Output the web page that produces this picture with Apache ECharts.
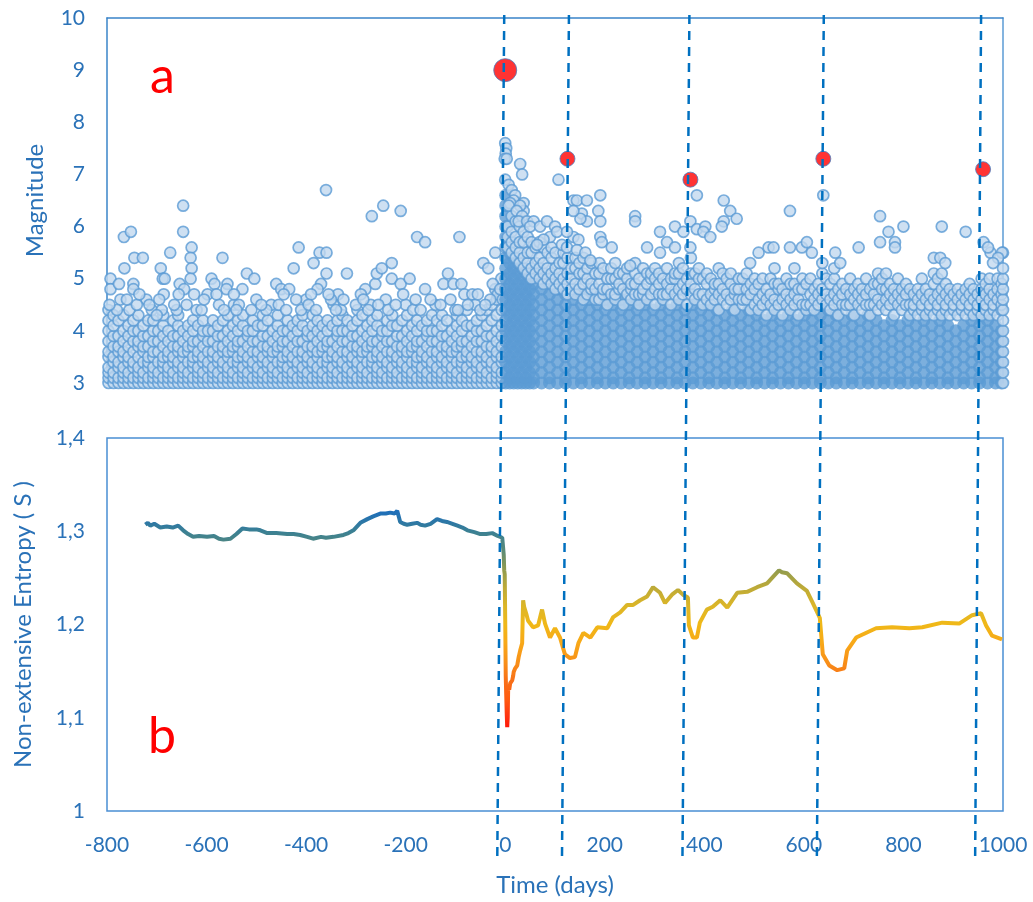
<!DOCTYPE html>
<html>
<head>
<meta charset="utf-8">
<script src="https://cdn.jsdelivr.net/npm/echarts@6/dist/echarts.min.js"></script>
<style>
html, body { margin: 0; padding: 0; background: #fff; }
#chart { width: 1033px; height: 902px; }
</style>
</head>
<body>
<div id="chart"></div>
<script>
// days relative to the main shock
var timeMin = -800, timeMax = 1000;

// large shocks drawn in red: [day, magnitude]
var mainShocks = [[0, 9.0], [125, 7.3], [372, 6.9], [639, 7.3], [960, 7.1]];

// dashed marker lines (hand drawn, slightly slanted): day at the top and at the bottom
var markTop = [-2, 128, 370, 640, 956];
var markBottom = [-16, 114, 356, 626, 944];

// foreshock cloud, columns of [day, [magnitude x10 ...]]
var foreCloud = [
  [-797,[30,31,32,33,35,36,38,40,42,44]],[-787,[30,31,32,34,35,37,39,41,43]],[-777,[30,31,33,34,36,37,39,42]],
  [-767,[30,31,32,33,35,36,38,40,43]],[-757,[30,31,32,34,35,37,39,41]],[-747,[30,31,33,34,36,38,40,42]],
  [-737,[30,31,32,33,35,37,38,40,43]],[-727,[30,31,32,34,36,37,39,41]],[-717,[30,31,33,34,35,37,39,42]],
  [-707,[30,31,32,33,35,36,38,40,42]],[-697,[30,31,32,34,36,38,40]],[-687,[30,31,33,34,35,37,39,41,43]],
  [-677,[30,31,32,33,35,36,38,40]],[-667,[30,31,32,34,35,37,39,42]],[-657,[30,31,33,34,36,37,39,41,43]],
  [-647,[30,31,32,33,35,36,38,40]],[-637,[30,31,32,34,36,37,39,41]],[-627,[30,31,33,34,35,37,38,40,42]],
  [-617,[30,31,32,33,35,36,38,41]],[-607,[30,31,32,34,35,37,39,40,42]],[-597,[30,31,33,34,36,38,40]],
  [-587,[30,31,32,33,35,36,38,40,42]],[-577,[30,31,32,34,35,37,39,41]],[-567,[30,31,33,34,36,37,39,42]],
  [-557,[30,31,32,33,35,36,38,40,43]],[-547,[30,31,32,34,36,37,39,41]],[-537,[30,31,33,34,35,37,38,40,42]],
  [-527,[30,31,32,33,35,36,38,41,43]],[-517,[30,31,32,34,35,37,39,40]],[-507,[30,31,33,34,36,38,40,42]],
  [-497,[30,31,32,33,35,36,38,41]],[-487,[30,31,32,34,35,37,39,41,43]],[-477,[30,31,33,34,36,37,39,42]],
  [-467,[30,31,32,33,35,36,38,40]],[-457,[30,31,32,34,36,37,39,41,43]],[-447,[30,31,33,34,35,37,38,40]],
  [-437,[30,31,32,33,35,36,38,40,42]],[-427,[30,31,32,34,35,37,39,41]],[-417,[30,31,33,34,36,38,40,42]],
  [-407,[30,31,32,33,35,36,38,41,43]],[-397,[30,31,32,34,35,37,39,40]],[-387,[30,31,33,34,36,37,39,41,43]],
  [-377,[30,31,32,33,35,36,38,40,42]],[-367,[30,31,32,34,36,37,39,41]],[-357,[30,31,33,34,35,37,38,40,42]],
  [-347,[30,31,32,33,35,36,38,41]],[-337,[30,31,32,34,35,37,39,40,42]],[-327,[30,31,33,34,36,38,40,43]],
  [-317,[30,31,32,33,35,36,38,40,42]],[-307,[30,31,32,34,35,37,39,41]],[-297,[30,31,33,34,36,37,39,42,44]],
  [-287,[30,31,32,33,35,36,38,40,43]],[-277,[30,31,32,34,36,37,39,41]],[-267,[30,31,33,34,35,37,38,40,42]],
  [-257,[30,31,32,33,35,36,38,41,43]],[-247,[30,31,32,34,35,37,39,40]],[-237,[30,31,33,34,36,38,40,42]],
  [-227,[30,31,32,33,35,36,38,41,43]],[-217,[30,31,32,34,35,37,39,41]],[-207,[30,31,33,34,36,37,39,42]],
  [-197,[30,31,32,33,35,36,38,40,43]],[-187,[30,31,32,34,36,37,39,41]],[-177,[30,31,33,34,35,37,38,40,42]],
  [-167,[30,31,32,33,35,36,38,41]],[-157,[30,31,32,34,35,37,39,40,42]],[-147,[30,31,33,34,36,38,40,43]],
  [-137,[30,31,32,33,35,36,38,40,42]],[-127,[30,31,32,34,35,37,39,41,43]],[-117,[30,31,33,34,36,37,39,42]],
  [-107,[30,31,32,33,35,36,38,40]],[-97,[30,31,32,34,36,37,39,41,43]],[-87,[30,31,33,34,35,37,38,40,42]],
  [-77,[30,31,32,33,35,36,38,41,44]],[-67,[30,31,32,34,35,37,39,41]],[-57,[30,31,33,34,36,38,40,42]],
  [-47,[30,31,32,33,35,36,38,40,43]],[-37,[30,31,32,34,35,37,39,41,44]],[-27,[30,31,33,34,36,37,39,42,45]],
  [-17,[30,31,32,33,35,36,38,40,43,46]],[-7,[30,31,32,34,35,37,39,41,44,47]]
];

// isolated foreshocks: [day, magnitude]
var foreOutliers = [
  [-793,5.0],[-793,4.8],[-776,4.9],[-766,5.8],[-752,5.9],[-765,5.2],[-745,5.4],[-728,5.4],[-747,4.9],[-747,4.8],
  [-773,4.6],[-721,4.6],[-755,4.4],[-740,4.5],[-780,4.4],[-710,4.4],[-692,5.2],[-688,5.0],[-684,5.0],[-686,4.7],
  [-673,5.5],[-690,4.4],[-700,4.3],[-647,6.4],[-647,5.9],[-630,5.6],[-632,5.4],[-630,5.2],[-632,5.0],[-654,4.9],
  [-645,4.8],[-656,4.7],[-640,4.5],[-620,4.4],[-660,4.4],[-568,5.4],[-590,5.0],[-584,4.9],[-598,4.7],[-558,4.9],
  [-560,4.8],[-575,4.5],[-610,4.4],[-545,4.5],[-519,5.1],[-504,5.0],[-528,4.8],[-545,4.7],[-510,4.4],[-535,4.5],
  [-460,4.9],[-450,4.8],[-434,4.8],[-445,4.7],[-470,4.5],[-480,4.4],[-425,5.2],[-415,5.6],[-400,4.6],[-410,4.4],
  [-385,5.3],[-373,5.5],[-359,5.5],[-359,5.1],[-370,4.9],[-377,4.8],[-390,4.7],[-336,4.7],[-318,5.1],[-345,4.5],
  [-330,4.4],[-360,6.7],[-350,4.6],[-281,4.8],[-261,4.9],[-258,5.1],[-248,5.2],[-268,6.2],[-245,6.4],[-210,6.3],
  [-228,5.3],[-228,5.0],[-210,4.9],[-192,5.0],[-177,5.8],[-161,5.7],[-161,4.8],[-270,4.5],[-240,4.6],[-200,4.5],
  [-185,4.4],[-124,4.9],[-104,4.9],[-88,4.9],[-115,5.1],[-82,4.7],[-66,4.7],[-92,5.8],[-44,5.3],[-34,5.2],
  [-20,5.5],[-20,4.8],[-15,4.7],[-140,4.5],[-100,4.4],[-60,4.5],[-30,4.6],[-50,4.4],[-8,5.0],[-5,4.6],
  [-795,4.5],[-760,4.6],[-735,4.7],[-715,4.5],[-695,4.6],[-665,4.5],[-625,4.7],[-605,4.6],[-580,4.7],[-565,4.4],
  [-540,4.4],[-500,4.6],[-490,4.5],[-455,4.5],[-440,4.4],[-420,4.6],[-395,4.5],[-380,4.4],[-355,4.7],[-340,4.4],
  [-325,4.6],[-300,4.5],[-290,4.7],[-285,4.6],[-275,4.4],[-255,4.5],[-235,4.4],[-220,4.5],[-205,4.7],[-180,4.6],
  [-170,4.4],[-150,4.6],[-130,4.5],[-110,4.6],[-95,4.4],[-75,4.5],[-55,4.7],[-40,4.5],[-25,4.9],[-10,4.8]
];

// dense aftershock core, columns of [day, [magnitude x10 ...]]
var afterCore = [
  [1,[30,32,34,36,38,40,42,44,46,48,50,52,54,56,58,60,62,64,66]],[9,[30,31,33,35,37,39,41,43,45,47,49,51,53,55]],
  [17,[30,32,34,36,38,40,42,44,46,48,50,52,54]],[25,[30,31,33,35,37,39,41,43,45,47,49,51,53]],
  [33,[30,32,34,36,38,40,42,44,46,48,50,52]],[41,[30,31,33,35,37,39,41,43,45,47,49,51]],
  [49,[30,32,34,36,38,40,42,44,46,48,50]],[57,[30,31,33,35,37,39,41,43,45,47,49,51]],
  [73,[30,32,34,36,38,40,42,44,46,48,50]],[89,[30,31,33,35,37,39,41,43,45,47,49]],
  [105,[30,32,34,36,38,40,42,44,46,48]],[121,[30,31,33,35,37,39,41,43,45,47]],
  [137,[30,32,34,36,38,40,42,44,46,48]],[153,[30,31,33,35,37,39,41,43,45,47]],
  [169,[30,32,34,36,38,40,42,44,46]],[185,[30,31,33,35,37,39,41,43,45,47]],
  [201,[30,32,34,36,38,40,42,44,46]],[217,[30,31,33,35,37,39,41,43,45]],
  [233,[30,32,34,36,38,40,42,44,46]],[249,[30,31,33,35,37,39,41,43,45]],
  [265,[30,32,34,36,38,40,42,44,46]],[281,[30,31,33,35,37,39,41,43,45]],
  [297,[30,32,34,36,38,40,42,44]],[313,[30,31,33,35,37,39,41,43,45]],
  [329,[30,32,34,36,38,40,42,44]],[345,[30,31,33,35,37,39,41,43,45]],
  [361,[30,32,34,36,38,40,42,44]],[377,[30,31,33,35,37,39,41,43,45]],
  [393,[30,32,34,36,38,40,42,44]],[409,[30,31,33,35,37,39,41,43,45]],
  [425,[30,32,34,36,38,40,42,44]],[441,[30,31,33,35,37,39,41,43]],
  [457,[30,32,34,36,38,40,42,44]],[473,[30,31,33,35,37,39,41,43]],
  [489,[30,32,34,36,38,40,42,44]],[505,[30,31,33,35,37,39,41,43]],
  [521,[30,32,34,36,38,40,42]],[537,[30,31,33,35,37,39,41,43]],
  [553,[30,32,34,36,38,40,42]],[569,[30,31,33,35,37,39,41,43]],
  [585,[30,32,34,36,38,40,42]],[601,[30,31,33,35,37,39,41,43]],
  [617,[30,32,34,36,38,40,42,44]],[633,[30,31,33,35,37,39,41,43]],
  [649,[30,32,34,36,38,40,42,44]],[665,[30,31,33,35,37,39,41,43]],
  [681,[30,32,34,36,38,40,42]],[697,[30,31,33,35,37,39,41,43]],
  [713,[30,32,34,36,38,40,42]],[729,[30,31,33,35,37,39,41,43]],
  [745,[30,32,34,36,38,40,42]],[761,[30,31,33,35,37,39,41]],
  [777,[30,32,34,36,38,40,42]],[793,[30,31,33,35,37,39,41]],
  [809,[30,32,34,36,38,40,42]],[825,[30,31,33,35,37,39,41]],
  [841,[30,32,34,36,38,40,42]],[857,[30,31,33,35,37,39,41]],
  [873,[30,32,34,36,38,40,42]],[889,[30,31,33,35,37,39,41]],
  [905,[30,32,34,36,38,40]],[921,[30,31,33,35,37,39,41]],
  [937,[30,32,34,36,38,40,42]],[953,[30,31,33,35,37,39,41,43]],
  [969,[30,32,34,36,38,40,42]],[985,[30,31,33,35,37,39,41]],
  [997,[30,32,34,36,38,40]]
];

// looser aftershocks above the core, columns of [day, [magnitude x10 ...]]
var afterUpper = [
  [5,[56,58,60]],[13,[55,57,59,62]],[21,[54,56,58,61]],[29,[53,55,57,60]],[37,[52,54,57,59]],[45,[51,53,55,58]],
  [53,[50,52,55,57]],[61,[51,53,56]],[69,[50,52,54,57]],[77,[49,51,53,56]],[85,[50,52,55]],[93,[49,51,54,56]],
  [101,[48,50,52,55]],[109,[49,51,53]],[117,[48,50,53,55]],[125,[47,49,51,54]],[133,[48,50,52]],[141,[47,49,52,54]],
  [149,[48,51,53]],[157,[46,49,51,54]],[165,[47,50,52]],[173,[48,49,53]],[181,[46,48,51]],[189,[46,49,51,53]],
  [197,[47,48,52]],[205,[45,48,50]],[213,[47,50,52]],[221,[46,47,50,53]],[229,[48,49,51]],[237,[45,48,51]],
  [245,[47,50,52]],[253,[46,48,49]],[261,[47,49,51,53]],[269,[45,47,50]],[277,[47,48,52]],[285,[46,49,51]],
  [293,[47,50,51]],[301,[45,48,50,52]],[309,[47,49,51]],[317,[46,47,50]],[325,[47,49,52]],[333,[45,48,50]],
  [341,[47,50,51]],[349,[46,48,51,53]],[357,[47,49,52]],[365,[45,48,50]],[373,[47,49,51,54]],[381,[46,48,51]],
  [389,[47,50,52]],[397,[45,47,50]],[405,[46,49,51]],[413,[45,47,50]],[421,[46,48,49]],[429,[44,47,49,52]],
  [437,[46,48,51]],[445,[45,47,50]],[453,[46,49,51]],[461,[44,47,48]],[469,[46,48,50]],[477,[45,46,50]],
  [485,[46,48,51]],[493,[44,47,49]],[501,[45,48,50]],[509,[44,46,49]],[517,[45,47,50]],[525,[43,46,48]],
  [533,[45,47,50]],[541,[44,46,49,52]],[549,[45,48,49]],[557,[43,46,48]],[565,[45,47,50]],[573,[44,46,49]],
  [581,[45,47,49,52]],[589,[43,46,48]],[597,[45,48,50]],[605,[44,45,49]],[613,[45,47,50]],[621,[44,46,48]],
  [629,[45,47,49]],[637,[46,48,51,53]],[645,[45,47,50]],[653,[44,46,49]],[661,[45,47,50,52]],[669,[43,46,48]],
  [677,[45,47,49]],[685,[44,45,48]],[693,[45,47,50]],[701,[43,46,48]],[709,[45,47,49]],[717,[44,46,48]],
  [725,[45,47,50]],[733,[43,45,48]],[741,[45,47,49]],[749,[44,46,49,51]],[757,[45,48,50]],[765,[44,46,48,51]],
  [773,[45,47,49]],[781,[43,46,48]],[789,[45,47,50]],[797,[44,46,48]],[805,[45,47,49]],[813,[43,45,48]],
  [821,[44,45,47]],[829,[43,46,48]],[837,[44,45,47,50]],[845,[43,46,48]],[853,[44,45,47]],[861,[43,46,49,51]],
  [869,[44,45,47,50]],[877,[43,46,48,51]],[885,[44,45,47,49]],[893,[43,46,48]],[901,[44,45,47]],[909,[43,46,48]],
  [917,[44,45,47]],[925,[43,46,48]],[933,[44,45,47,49]],[941,[43,46,48]],[949,[44,45,47]],[957,[43,46,48,50]],
  [965,[44,45,47,49]],[973,[43,46,48,50]],[981,[44,45,47]],[989,[43,46,48,50]],[997,[44,45,47,49]],
  [1000,[30,32,34,36,38,40,42,44,46,48,50,52,55]]
];

// isolated large aftershocks: [day, magnitude]
var afterOutliers = [
  [0,7.6],[2,7.5],[1,7.4],[-1,7.3],[3,7.3],[30,7.2],[34,7.0],[107,6.9],
  [0,6.9],[7,6.8],[13,6.7],[20,6.6],[17,6.5],[10,6.45],[37,6.45],[37,6.3],[30,6.4],[7,6.4],[23,6.3],[34,6.2],
  [27,6.1],[44,6.1],[57,6.1],[50,6.0],[70,6.0],[84,6.1],[100,6.0],[90,5.8],[104,5.9],[77,5.75],[64,5.65],[114,5.65],
  [137,6.5],[144,6.5],[164,6.5],[191,6.6],[187,6.3],[154,6.25],[164,6.1],[151,6.15],[137,6.3],[191,6.1],[191,5.8],
  [194,5.7],[214,5.6],[137,5.8],[147,5.75],[124,5.6],[144,5.55],[124,5.9],[161,5.5],[171,5.35],[261,6.2],[261,6.1],
  [311,5.9],[325,5.7],[341,6.0],[358,5.9],[372,6.1],[385,6.6],[385,5.95],[402,6.0],[398,5.9],[412,5.8],[439,6.5],
  [452,6.3],[465,6.15],[439,6.1],[435,6.0],[311,5.5],[341,5.6],[372,5.6],[285,5.6],[251,5.25],[509,5.5],[529,5.6],
  [492,5.3],[639,6.6],[572,6.3],[753,6.2],[770,5.9],[800,6.0],[783,5.7],[783,5.6],[753,5.7],[877,6.0],[925,5.9],
  [539,5.6],[572,5.6],[596,5.6],[606,5.7],[616,5.5],[710,5.6],[961,5.7],[975,5.5],[998,5.5],[861,5.4],[874,5.4],
  [884,5.3],[663,5.5],[673,5.3],[970,5.6],[990,5.4],[980,5.3]
];

// non-extensive entropy: [day, S]
var entropy = [
  [-723,1.307],[-718,1.309],[-713,1.306],[-705,1.308],[-693,1.304],[-680,1.305],[-668,1.304],[-657,1.306],
  [-647,1.301],[-637,1.297],[-627,1.294],[-615,1.295],[-599,1.294],[-585,1.295],[-575,1.292],[-566,1.291],
  [-552,1.292],[-540,1.297],[-528,1.303],[-515,1.302],[-500,1.302],[-492,1.301],[-478,1.298],[-460,1.298],
  [-438,1.297],[-425,1.297],[-412,1.296],[-398,1.294],[-386,1.292],[-370,1.294],[-360,1.293],[-345,1.294],
  [-325,1.296],[-315,1.298],[-305,1.301],[-298,1.305],[-291,1.309],[-277,1.313],[-265,1.316],[-251,1.319],
  [-240,1.319],[-231,1.320],[-222,1.319],[-217,1.322],[-213,1.320],[-211,1.310],[-204,1.308],[-197,1.307],
  [-187,1.308],[-177,1.309],[-170,1.307],[-161,1.306],[-150,1.308],[-137,1.313],[-127,1.311],[-117,1.310],
  [-106,1.308],[-96,1.306],[-86,1.304],[-76,1.301],[-62,1.299],[-50,1.297],[-38,1.297],[-26,1.298],
  [-15,1.295],[-6,1.293],[-4,1.291],[-3,1.275],[-2,1.258],[-1,1.254],[0,1.205],[1,1.145],[2,1.125],[3,1.105],
  [4,1.090],[5,1.100],[6,1.135],[8,1.130],[10,1.137],[12,1.135],[14,1.140],[16,1.145],[17,1.149],[20,1.153],
  [24,1.156],[27,1.165],[30,1.172],[34,1.180],[35,1.204],[36,1.226],[38,1.219],[42,1.212],[46,1.204],[56,1.197],
  [66,1.199],[74,1.216],[80,1.201],[90,1.186],[100,1.196],[110,1.186],[120,1.168],[130,1.164],[140,1.165],
  [147,1.180],[157,1.191],[171,1.186],[185,1.197],[205,1.196],[217,1.208],[231,1.213],[245,1.221],[257,1.221],
  [271,1.226],[285,1.230],[297,1.240],[311,1.234],[321,1.223],[335,1.232],[347,1.237],[357,1.232],[367,1.229],
  [369,1.199],[377,1.186],[385,1.186],[391,1.202],[405,1.216],[417,1.219],[432,1.226],[446,1.218],[466,1.234],
  [486,1.235],[506,1.240],[526,1.244],[538,1.251],[550,1.258],[556,1.256],[566,1.255],[586,1.244],[606,1.236],
  [618,1.223],[632,1.207],[638,1.168],[651,1.156],[667,1.151],[681,1.153],[687,1.172],[705,1.186],[745,1.196],
  [777,1.197],[812,1.196],[838,1.197],[878,1.202],[912,1.201],[938,1.210],[956,1.212],[966,1.199],[978,1.188],
  [998,1.184]
];

var axisBlue = '#2a72b8';
var font = 'Lato, "Open Sans", sans-serif';

// [day, [m x10]] columns -> [day, m] points
function expand(cols) {
  var out = [];
  cols.forEach(function (c) {
    c[1].forEach(function (m) { out.push([c[0], m / 10]); });
  });
  return out;
}

var lightDot = { color: '#c2d8ef', borderColor: '#5b9bd5', borderWidth: 1.7 };

var chart = echarts.init(document.getElementById('chart'));

chart.setOption({
  animation: false,
  textStyle: { fontFamily: font },
  grid: [
    { left: 107, right: 30, top: 18, height: 365 },
    { left: 107, right: 30, top: 438, height: 373, show: true, borderColor: '#4a8fd4', borderWidth: 1.5 },
    { left: 107, right: 30, top: 15, height: 845 }
  ],
  xAxis: [
    { gridIndex: 0, type: 'value', min: timeMin, max: timeMax, position: 'top',
      axisLine: { show: true, onZero: false, lineStyle: { color: '#3a84c9', width: 1.5 } },
      axisTick: { show: false }, axisLabel: { show: false }, splitLine: { show: false } },
    { gridIndex: 1, type: 'value', min: timeMin, max: timeMax, interval: 200,
      axisLine: { show: false }, axisTick: { show: false }, splitLine: { show: false },
      axisLabel: { color: axisBlue, fontSize: 21, margin: 24, fontFamily: font,
        formatter: function (v) { return String(v); } },
      name: 'Time (days)', nameLocation: 'middle', nameGap: 62,
      nameTextStyle: { color: axisBlue, fontSize: 24, fontFamily: font } },
    { gridIndex: 2, type: 'value', min: timeMin, max: timeMax, show: false }
  ],
  yAxis: [
    { gridIndex: 0, type: 'value', min: 3, max: 10, interval: 1,
      axisLine: { show: true, onZero: false, lineStyle: { color: '#3a84c9', width: 1.5 } },
      axisTick: { show: false }, splitLine: { show: false },
      axisLabel: { color: axisBlue, fontSize: 21, margin: 22, fontFamily: font },
      name: 'Magnitude', nameLocation: 'middle', nameGap: 60, nameRotate: 90,
      nameTextStyle: { color: axisBlue, fontSize: 24, fontFamily: font } },
    { gridIndex: 0, type: 'value', min: 3, max: 10, position: 'right',
      axisLine: { show: true, onZero: false, lineStyle: { color: '#5b9bd5', width: 1.5 } },
      axisTick: { show: false }, axisLabel: { show: false }, splitLine: { show: false } },
    { gridIndex: 1, type: 'value', min: 1, max: 1.4, interval: 0.1,
      axisLine: { show: false }, axisTick: { show: false }, splitLine: { show: false },
      axisLabel: { color: axisBlue, fontSize: 21, margin: 22, fontFamily: font,
        formatter: function (v) { return String(+v.toFixed(1)).replace('.', ','); } },
      name: 'Non-extensive Entropy ( S )', nameLocation: 'middle', nameGap: 72, nameRotate: 90,
      nameTextStyle: { color: axisBlue, fontSize: 24, fontFamily: font } },
    { gridIndex: 2, type: 'value', min: 0, max: 1, show: false }
  ],
  visualMap: {
    type: 'continuous', show: false, seriesIndex: 5, dimension: 1, min: 1.08, max: 1.32,
    inRange: { color: ['#ff0000', '#ff3010', '#ff5a10', '#f87018', '#f89018', '#f8a818', '#f0b818',
                       '#dcb628', '#bcaa38', '#8e9a50', '#5a8a78', '#3a8094', '#1f6fb8'] }
  },
  graphic: [
    { type: 'text', left: 150, top: 52, style: { text: 'a', fill: '#ff0000', font: '50px ' + font } },
    { type: 'text', left: 148, top: 712, style: { text: 'b', fill: '#ff0000', font: '50px ' + font } }
  ],
  series: [
    { name: 'foreshocks', type: 'scatter', xAxisIndex: 0, yAxisIndex: 0, symbolSize: 11, clip: false,
      progressive: 0, itemStyle: lightDot, data: expand(foreCloud).concat(foreOutliers) },
    { name: 'aftershock core', type: 'scatter', xAxisIndex: 0, yAxisIndex: 0, symbolSize: 13, clip: false,
      progressive: 0, itemStyle: { color: '#5b9bd5' }, data: expand(afterCore) },
    { name: 'aftershocks', type: 'scatter', xAxisIndex: 0, yAxisIndex: 0, symbolSize: 11, clip: false,
      progressive: 0, itemStyle: lightDot, data: expand(afterUpper) },
    { name: 'large aftershocks', type: 'scatter', xAxisIndex: 0, yAxisIndex: 0, symbolSize: 11, clip: false,
      progressive: 0, itemStyle: lightDot, data: afterOutliers },
    { name: 'main shocks', type: 'scatter', xAxisIndex: 0, yAxisIndex: 0, clip: false, z: 5,
      symbolSize: function (v) { return v[1] >= 9 ? 23 : 15; },
      itemStyle: { color: '#ff0000', borderColor: '#4a7fc0', borderWidth: 1 }, data: mainShocks },
    { name: 'entropy', type: 'line', xAxisIndex: 1, yAxisIndex: 2, showSymbol: false, z: 3,
      lineStyle: { width: 4 }, data: entropy },
    { name: 'markers', type: 'lines', coordinateSystem: 'cartesian2d', xAxisIndex: 2, yAxisIndex: 3, z: 10,
      lineStyle: { color: '#0070c0', width: 2.5, type: [9, 7], opacity: 1 },
      data: markTop.map(function (t, i) { return { coords: [[t, 1], [markBottom[i], 0]] }; }) }
  ]
});
</script>
</body>
</html>
